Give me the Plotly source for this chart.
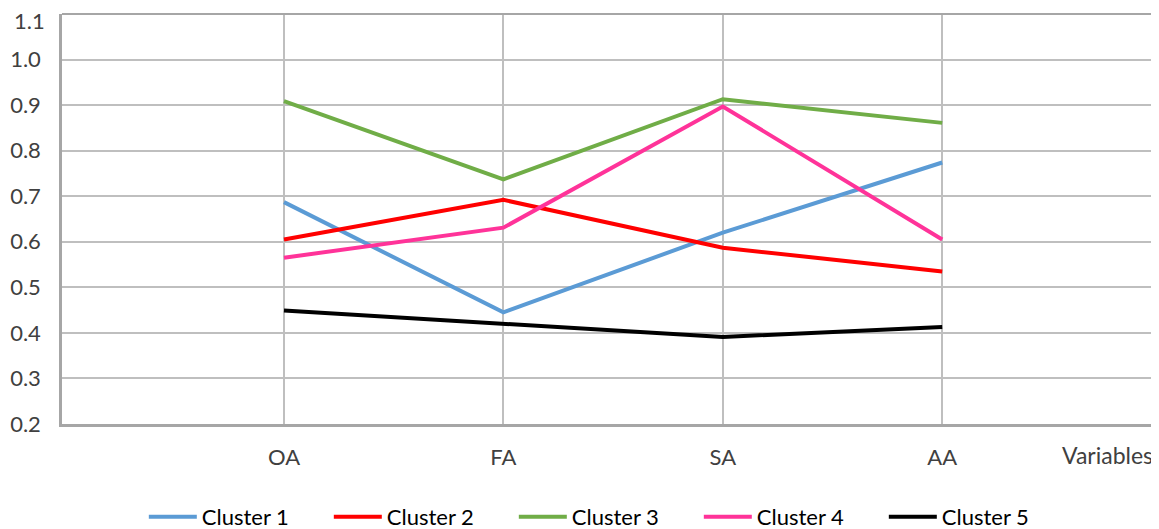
import plotly.graph_objects as go

categories = ["OA", "FA", "SA", "AA"]
series_names = ["Cluster 1", "Cluster 2", "Cluster 3", "Cluster 4", "Cluster 5"]
cluster1 = [0.687, 0.445, 0.620, 0.774]
cluster2 = [0.605, 0.692, 0.587, 0.535]
cluster3 = [0.909, 0.737, 0.913, 0.861]
cluster4 = [0.565, 0.631, 0.897, 0.605]
cluster5 = [0.449, 0.420, 0.391, 0.413]
y_ticks = [0.2, 0.3, 0.4, 0.5, 0.6, 0.7, 0.8, 0.9, 1.0, 1.1]

colors = ["#5B9BD5", "#FF0000", "#70AD47", "#FF3399", "#000000"]
values = [cluster1, cluster2, cluster3, cluster4, cluster5]

FONT = "Lato, Liberation Sans, Arial, sans-serif"
W, H = 1151, 521  # page body has an 8px default margin

fig = go.Figure()
for name, vals, col in zip(series_names, values, colors):
    fig.add_trace(go.Scatter(x=categories, y=vals, mode="lines", name=name,
                             line=dict(color=col, width=4)))

tick_text = [f"{v:.1f}" for v in y_ticks]
# the top label sits just inside the plot (drawn as an annotation below)
tick_text_axis = tick_text[:-1] + [""]

fig.update_layout(
    width=W, height=H,
    margin=dict(l=54, r=0, t=6, b=105, autoexpand=False),
    paper_bgcolor="white", plot_bgcolor="white",
    font=dict(family=FONT, size=22, color="#404040"),
    showlegend=True,
    legend=dict(orientation="h", xref="container", x=0.118, xanchor="left",
                yref="container", y=(H - 509) / H, yanchor="middle",
                font=dict(family=FONT, size=22, color="#000000"),
                itemwidth=48, entrywidth=122, tracegroupgap=0),
)
fig.update_xaxes(type="category", categoryorder="array", categoryarray=categories,
                 range=[-1.0117, 3.988], showgrid=True, gridcolor="#BFBFBF", gridwidth=1.5,
                 showline=True, linecolor="#A6A6A6", linewidth=2.5, ticks="",
                 ticklabelstandoff=12, zeroline=False)
fig.update_yaxes(range=[0.2, 1.1], tickvals=y_ticks, ticktext=tick_text_axis,
                 showgrid=True, gridcolor="#BFBFBF", gridwidth=1.5,
                 showline=True, linecolor="#A6A6A6", linewidth=2.5, ticks="",
                 ticklabelstandoff=14, zeroline=False, mirror=False)
fig.add_shape(type="line", xref="paper", yref="paper", x0=0, x1=1, y0=1, y1=1,
              line=dict(color="#A6A6A6", width=2))
fig.add_annotation(text=tick_text[-1], xref="paper", yref="y", x=0, xanchor="right",
                   xshift=-15, y=y_ticks[-1], yshift=-6, yanchor="middle", showarrow=False,
                   font=dict(family=FONT, size=22, color="#404040"))
fig.add_annotation(text="Variables", xref="paper", yref="paper", x=1.0, xanchor="right",
                   xshift=-4, y=0, yshift=-31, yanchor="middle", showarrow=False,
                   font=dict(family=FONT, size=23, color="#404040"))

fig.write_html("out.html")
